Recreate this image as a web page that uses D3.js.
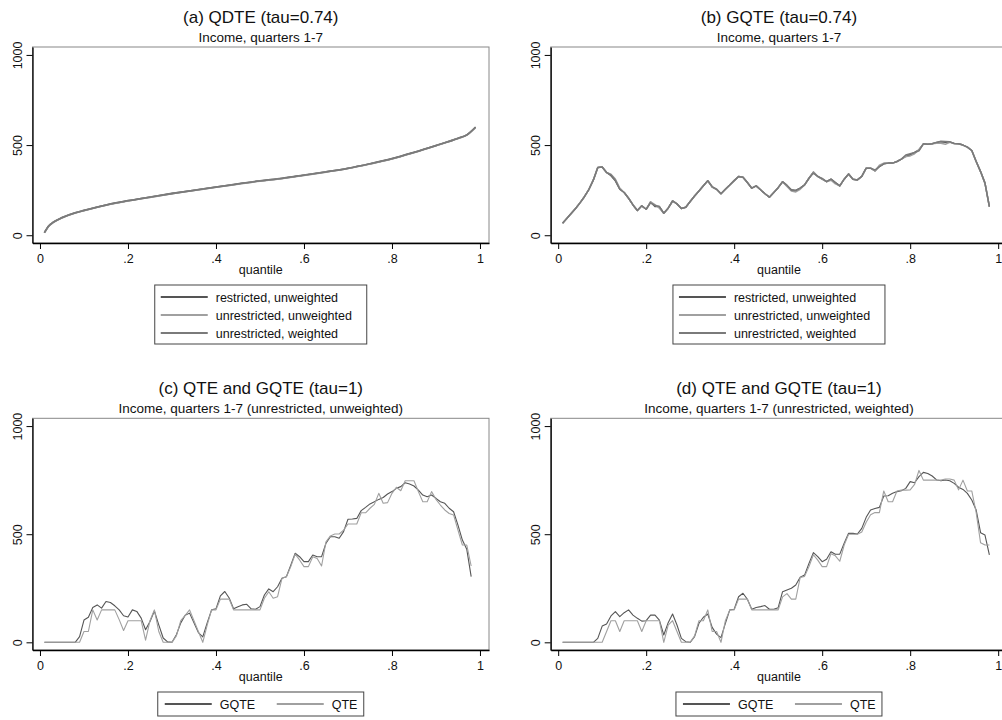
<!DOCTYPE html>
<html>
<head>
<meta charset="utf-8">
<script src="https://cdn.jsdelivr.net/npm/d3@7"></script>
<style>
  body { margin: 0; background: #fff; }
  svg { display: block; font-family: "Liberation Sans", Arial, Helvetica, sans-serif; fill: #111; }
</style>
</head>
<body>
<svg width="1002" height="720"></svg>
<script>
// --- dados ---

// (a) QDTE: curva suave, poucos quantis
const quantisA = [0.01, 0.02, 0.03, 0.05, 0.08, 0.10, 0.15, 0.20, 0.25, 0.30, 0.35, 0.40, 0.45,
  0.50, 0.55, 0.60, 0.65, 0.70, 0.75, 0.80, 0.85, 0.90, 0.95, 0.97, 0.99];
const qdteRestritoNP = [14, 52, 72, 98, 125, 138, 168, 192, 212, 232, 250, 268, 285,
  302, 316, 334, 352, 372, 397, 425, 460, 498, 538, 557, 600];
const qdteIrrestritoNP = [13, 50, 70, 96, 123, 136, 166, 190, 210, 230, 248, 266, 283,
  300, 314, 332, 350, 370, 395, 423, 458, 496, 536, 555, 597];
const qdteIrrestritoP = [14, 51, 71, 97, 124, 137, 167, 191, 211, 231, 249, 267, 284,
  301, 315, 333, 351, 371, 396, 424, 459, 497, 537, 556, 599];

// (b), (c), (d): quantis 0.01 ... 0.98
const quantis = d3.range(1, 99).map(k => k / 100);

const gqteRestritoNP = [67, 94, 122, 150, 181, 215, 255, 307, 376, 378,
  348, 330, 302, 255, 237, 205, 168, 137, 163, 144,
  185, 159, 159, 122, 150, 190, 174, 148, 155, 187,
  218, 246, 274, 302, 267, 255, 230, 255, 279, 303,
  326, 322, 292, 261, 274, 252, 230, 211, 237, 264,
  297, 274, 252, 248, 261, 279, 316, 350, 326, 311,
  297, 311, 292, 274, 311, 340, 311, 307, 326, 372,
  372, 357, 381, 396, 400, 400, 409, 422, 437, 446,
  459, 474, 507, 505, 507, 515, 518, 516, 518, 509,
  507, 500, 489, 470, 409, 353, 289, 159];
const gqteIrrestritoNP = [67, 94, 122, 150, 181, 215, 255, 307, 376, 378,
  348, 338, 312, 262, 237, 205, 168, 137, 163, 144,
  185, 170, 150, 122, 150, 190, 174, 148, 155, 187,
  218, 246, 274, 302, 267, 255, 230, 255, 279, 303,
  326, 322, 292, 261, 274, 252, 230, 211, 237, 264,
  297, 270, 245, 240, 255, 279, 316, 350, 326, 311,
  297, 305, 285, 274, 311, 340, 311, 307, 326, 372,
  372, 357, 388, 400, 400, 400, 409, 422, 437, 440,
  452, 474, 507, 505, 507, 510, 510, 505, 515, 509,
  507, 500, 489, 470, 409, 353, 289, 159];
const gqteIrrestritoP = [67, 94, 122, 150, 181, 215, 255, 307, 376, 378,
  348, 335, 305, 255, 237, 205, 168, 137, 163, 144,
  180, 165, 159, 122, 150, 190, 174, 148, 155, 187,
  218, 246, 274, 302, 270, 255, 230, 255, 279, 303,
  326, 322, 292, 261, 274, 252, 230, 211, 237, 264,
  297, 278, 250, 248, 261, 279, 316, 345, 326, 315,
  297, 311, 292, 274, 311, 340, 311, 307, 326, 372,
  372, 362, 381, 396, 400, 400, 409, 422, 445, 452,
  459, 468, 507, 505, 507, 515, 522, 520, 518, 509,
  507, 500, 489, 470, 409, 353, 289, 159];

// (c) irrestrito, não ponderado
const gqteC = [0, 0, 0, 0, 0, 0, 0, 0, 26, 103,
  116, 161, 173, 158, 189, 184, 169, 150, 123, 117,
  150, 143, 112, 58, 96, 145, 81, 20, 2, 0,
  35, 90, 125, 135, 90, 45, 25, 90, 150, 155,
  215, 235, 205, 155, 165, 173, 176, 155, 153, 165,
  219, 247, 234, 257, 296, 303, 357, 412, 396, 373,
  373, 404, 396, 396, 458, 488, 488, 481, 512, 569,
  570, 573, 609, 624, 640, 650, 661, 670, 686, 697,
  712, 720, 738, 732, 723, 704, 681, 673, 681, 666,
  650, 643, 620, 604, 542, 473, 430, 304];
const qteC = [0, 0, 0, 0, 0, 0, 0, 0, 0, 50,
  50, 150, 103, 150, 150, 150, 150, 105, 55, 100,
  100, 100, 100, 10, 100, 150, 50, 0, 0, 0,
  30, 100, 125, 150, 100, 50, 0, 80, 150, 150,
  200, 200, 200, 150, 150, 150, 150, 150, 150, 150,
  204, 234, 204, 211, 296, 303, 350, 408, 381, 350,
  350, 396, 388, 353, 465, 492, 501, 501, 519, 547,
  547, 547, 599, 599, 620, 638, 689, 643, 646, 689,
  717, 701, 747, 747, 747, 697, 650, 650, 697, 661,
  635, 612, 596, 589, 519, 450, 450, 353];

// (d) irrestrito, ponderado
const gqteD = [0, 0, 0, 0, 0, 0, 0, 0, 18, 75,
  85, 122, 142, 119, 137, 150, 126, 111, 98, 100,
  126, 126, 103, 34, 91, 131, 80, 18, 3, 0,
  26, 88, 116, 131, 69, 38, 22, 88, 150, 153,
  211, 227, 199, 153, 161, 165, 170, 153, 153, 160,
  234, 242, 250, 265, 301, 311, 365, 415, 396, 373,
  384, 419, 407, 408, 458, 504, 504, 501, 527, 578,
  612, 619, 624, 677, 678, 689, 697, 701, 712, 743,
  738, 766, 786, 781, 769, 751, 747, 751, 747, 735,
  717, 707, 689, 658, 612, 507, 496, 404];
const qteD = [0, 0, 0, 0, 0, 0, 0, 0, 0, 0,
  50, 100, 100, 50, 100, 100, 100, 100, 50, 100,
  100, 100, 100, 0, 80, 100, 50, 0, 0, 0,
  30, 100, 100, 150, 50, 50, 0, 100, 150, 150,
  200, 200, 200, 150, 150, 150, 150, 150, 150, 150,
  210, 225, 200, 200, 300, 305, 350, 405, 380, 350,
  350, 410, 400, 375, 450, 500, 500, 500, 510, 555,
  590, 600, 600, 700, 650, 650, 700, 704, 704, 705,
  730, 795, 750, 750, 750, 750, 750, 755, 755, 750,
  705, 750, 700, 700, 600, 460, 450, 450];

const ticksX = [0, 0.2, 0.4, 0.6, 0.8, 1];
const ticksY = [0, 500, 1000];

const COR_ESCURA = "#555";
const COR_CLARA = "#a0a0a0";
const COR_MEDIA = "#7a7a7a";

const svg = d3.select("svg");

// --- um painel ---
function desenhaPainel(cfg) {
  const { left, right, top, bottom } = cfg;
  const x = d3.scaleLinear().domain([-0.017, 1.0205]).range([left, right]);
  const y = d3.scaleLinear().domain(cfg.yDom).range([bottom, top]);
  const cx = (left + right) / 2;
  const g = svg.append("g");

  g.append("text")
    .attr("x", cx).attr("y", top - 24)
    .attr("text-anchor", "middle")
    .style("font-size", "17px")
    .text(cfg.titulo);
  g.append("text")
    .attr("x", cx).attr("y", top - 5.5)
    .attr("text-anchor", "middle")
    .style("font-size", "13.5px")
    .text(cfg.subtitulo);

  // moldura da área do gráfico
  g.append("rect")
    .attr("x", left).attr("y", top)
    .attr("width", right - left).attr("height", bottom - top)
    .attr("fill", "none")
    .attr("stroke", "#888")
    .attr("stroke-width", 1);

  const linha = d3.line()
    .x(d => x(d[0]))
    .y(d => y(d[1]))
    .curve(cfg.curva || d3.curveLinear);

  for (const s of cfg.series) {
    g.append("path")
      .datum(d3.zip(s.x, s.y))
      .attr("fill", "none")
      .attr("stroke", s.cor)
      .attr("stroke-width", cfg.espessura)
      .attr("stroke-linejoin", "round")
      .attr("d", linha);
  }

  // eixo y (rótulos girados, estilo Stata)
  const eixoY = g.append("g")
    .attr("transform", `translate(${left},0)`)
    .call(d3.axisLeft(y).tickValues(ticksY).tickSize(6).tickSizeOuter(0).tickFormat(d3.format("d")));
  eixoY.attr("font-size", null).attr("font-family", null);
  eixoY.select(".domain").attr("stroke", "#000").attr("stroke-width", 1.3);
  eixoY.selectAll(".tick line").attr("stroke", "#000");
  eixoY.selectAll(".tick text")
    .attr("transform", "rotate(-90)")
    .attr("x", 0).attr("y", -10.5).attr("dy", null)
    .attr("text-anchor", "middle")
    .attr("fill", "#111")
    .style("font-size", "12.5px");

  // eixo x
  const eixoX = g.append("g")
    .attr("transform", `translate(0,${bottom})`)
    .call(d3.axisBottom(x)
      .tickValues(ticksX)
      .tickSize(6).tickSizeOuter(0)
      .tickFormat(d => (d === 0 || d === 1) ? String(d) : String(d).replace(/^0/, "")));
  eixoX.attr("font-size", null).attr("font-family", null);
  eixoX.select(".domain").attr("stroke", "#000").attr("stroke-width", 1.3);
  eixoX.selectAll(".tick line").attr("stroke", "#000");
  eixoX.selectAll(".tick text")
    .attr("y", 19.5).attr("dy", null)
    .attr("fill", "#111")
    .style("font-size", "12.5px");

  g.append("text")
    .attr("x", cx).attr("y", bottom + 31)
    .attr("text-anchor", "middle")
    .style("font-size", "12.5px")
    .text("quantile");

  // legenda
  const leg = cfg.legenda;
  const boxL = cx - leg.largura / 2;
  const boxT = bottom + 42;
  const lg = g.append("g").attr("transform", `translate(${boxL},${boxT})`);
  lg.append("rect")
    .attr("x", 0).attr("y", 0)
    .attr("width", leg.largura).attr("height", leg.altura)
    .attr("fill", "#fff")
    .attr("stroke", "#444");

  cfg.series.forEach((s, i) => {
    const p = leg.pos[i];
    lg.append("line")
      .attr("x1", p.x).attr("x2", p.x + 47)
      .attr("y1", p.y).attr("y2", p.y)
      .attr("stroke", s.cor)
      .attr("stroke-width", 2);
    lg.append("text")
      .attr("x", p.x + 55).attr("y", p.y + 4.5)
      .style("font-size", "12.5px")
      .text(s.nome);
  });
}

const legendaTres = {
  largura: 212, altura: 59,
  pos: [{ x: 6, y: 12 }, { x: 6, y: 30 }, { x: 6, y: 48 }]
};
const legendaDuas = {
  largura: 206, altura: 24,
  pos: [{ x: 7, y: 12 }, { x: 119, y: 12 }]
};

desenhaPainel({
  left: 32.5, right: 489, top: 47, bottom: 243, yDom: [-43, 1044],
  titulo: "(a) QDTE (tau=0.74)", subtitulo: "Income, quarters 1-7",
  espessura: 1.6, curva: d3.curveMonotoneX, legenda: legendaTres,
  series: [
    { nome: "restricted, unweighted", x: quantisA, y: qdteRestritoNP, cor: COR_ESCURA },
    { nome: "unrestricted, unweighted", x: quantisA, y: qdteIrrestritoNP, cor: COR_CLARA },
    { nome: "unrestricted, weighted", x: quantisA, y: qdteIrrestritoP, cor: COR_MEDIA }
  ]
});

desenhaPainel({
  left: 550.7, right: 1007.2, top: 47, bottom: 243, yDom: [-43, 1044],
  titulo: "(b) GQTE (tau=0.74)", subtitulo: "Income, quarters 1-7",
  espessura: 1.5, legenda: legendaTres,
  series: [
    { nome: "restricted, unweighted", x: quantis, y: gqteRestritoNP, cor: COR_ESCURA },
    { nome: "unrestricted, unweighted", x: quantis, y: gqteIrrestritoNP, cor: COR_CLARA },
    { nome: "unrestricted, weighted", x: quantis, y: gqteIrrestritoP, cor: COR_MEDIA }
  ]
});

desenhaPainel({
  left: 32.5, right: 489, top: 418.3, bottom: 650, yDom: [-35.5, 1036],
  titulo: "(c) QTE and GQTE (tau=1)",
  subtitulo: "Income, quarters 1-7 (unrestricted, unweighted)",
  espessura: 1.1, legenda: legendaDuas,
  series: [
    { nome: "GQTE", x: quantis, y: gqteC, cor: COR_ESCURA },
    { nome: "QTE", x: quantis, y: qteC, cor: COR_CLARA }
  ]
});

desenhaPainel({
  left: 550.7, right: 1007.2, top: 418.3, bottom: 650, yDom: [-35.5, 1036],
  titulo: "(d) QTE and GQTE (tau=1)",
  subtitulo: "Income, quarters 1-7 (unrestricted, weighted)",
  espessura: 1.1, legenda: legendaDuas,
  series: [
    { nome: "GQTE", x: quantis, y: gqteD, cor: COR_ESCURA },
    { nome: "QTE", x: quantis, y: qteD, cor: COR_CLARA }
  ]
});
</script>
</body>
</html>
